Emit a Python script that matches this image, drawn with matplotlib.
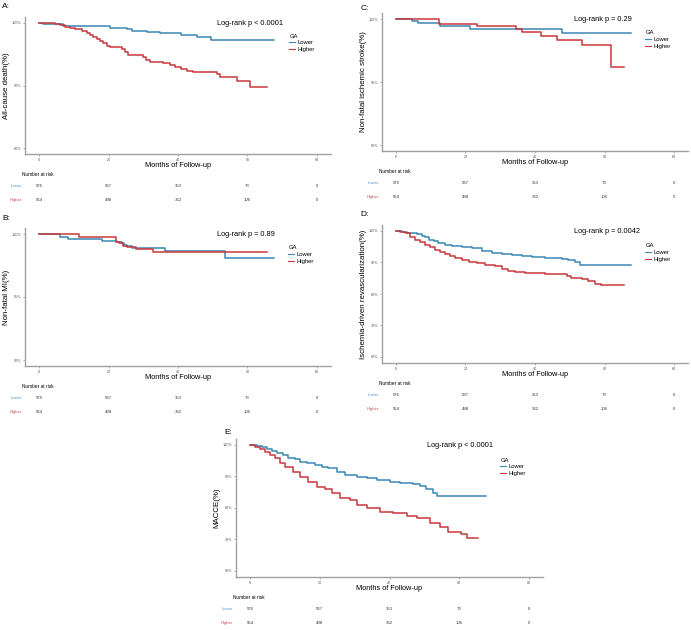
import matplotlib
matplotlib.use("Agg")
import matplotlib.pyplot as plt
from matplotlib.transforms import blended_transform_factory

plt.rcParams['font.family'] = ['Liberation Sans', 'DejaVu Sans']

W, H = 691, 630

lower_color = '#3b87b5'
higher_color = '#c9373b'
lower_label_color = '#5b9bc6'
higher_label_color = '#c24b4b'

x_ticks = [0, 20, 40, 60, 80]
risk_times = [0, 20, 40, 60, 80]
risk_lower = [576, 537, 353, 73, 0]
risk_higher = [564, 498, 362, 106, 0]

# A: all-cause death
a_lower_t = [0, 1.2, 7.0, 10.4, 20.4, 25.2, 26.7, 31.0, 34.8, 41.0, 45.4, 49.4, 67.6]
a_lower_s = [100, 99.9, 99.6, 99.5, 99.25, 99.0, 98.8, 98.6, 98.35, 98.1, 97.7, 97.3, 97.3]
a_higher_t = [0, 4.6, 6.0, 7.5, 9.0, 10.4, 12.3, 13.7, 14.7, 15.6, 16.6, 17.6, 18.5, 19.5,
              20.4, 21.9, 23.8, 24.8, 25.7, 29.9, 30.9, 31.9, 33.8, 35.8, 37.7, 39.1, 41.0,
              42.5, 44.4, 51.1, 52.1, 56.9, 60.7, 65.5]
a_higher_s = [100, 99.85, 99.7, 99.4, 99.15, 99.0, 98.8, 98.45, 98.15, 97.8, 97.5, 97.2, 96.75, 96.3,
              96.2, 96.1, 95.8, 95.4, 94.9, 94.6, 94.1, 93.8, 93.7, 93.55, 93.3, 93.0, 92.7,
              92.4, 92.2, 91.9, 91.4, 90.7, 89.7, 89.7]

# B: non-fatal MI
b_lower_t = [0, 5.9, 8.4, 18.0, 22.4, 23.8, 24.5, 25.2, 26.7, 36.3, 53.5, 67.6]
b_lower_s = [100, 99.8, 99.63, 99.47, 99.37, 99.29, 99.1, 99.03, 98.9, 98.63, 98.08, 98.08]
b_higher_t = [0, 11.5, 22.3, 23.0, 24.3, 25.2, 27.9, 32.9, 65.5]
b_higher_s = [100, 99.8, 99.4, 99.29, 99.08, 98.97, 98.8, 98.55, 98.55]

# C: non-fatal ischemic stroke
c_lower_t = [0, 4.6, 6.3, 12.7, 21.3, 47.9, 67.6]
c_lower_s = [100, 99.84, 99.66, 99.44, 99.23, 98.92, 98.92]
c_higher_t = [0, 12.5, 23.3, 34.5, 36.4, 41.7, 46.4, 53.4, 62.0, 65.5]
c_higher_s = [100, 99.58, 99.42, 99.18, 98.94, 98.68, 98.36, 97.94, 96.16, 96.16]

# D: ischemia-driven revascularization
d_lower_t = [0, 1.7, 3.2, 4.6, 6.0, 7.5, 8.4, 9.4, 10.8, 12.2, 14.2, 16.1, 18.9, 21.8, 24.7,
             27.6, 30.4, 33.3, 36.2, 39.0, 42.9, 47.7, 49.6, 51.5, 52.9, 67.6]
d_lower_s = [100, 99.8, 99.5, 99.3, 98.9, 98.5, 98.0, 97.1, 96.8, 96.3, 95.5, 95.3, 95.0, 94.5, 93.7,
             93.1, 92.7, 92.4, 92.0, 91.8, 91.5, 91.2, 90.8, 90.0, 89.1, 89.1]
d_higher_t = [0, 1.2, 2.7, 4.1, 5.6, 7.0, 8.4, 9.9, 11.3, 12.7, 14.2, 15.6, 17.0, 18.9, 20.9,
              23.3, 25.6, 28.5, 30.4, 32.3, 34.3, 37.1, 42.9, 47.7, 49.1, 50.5, 53.4, 55.3,
              57.2, 59.1, 65.5]
d_higher_s = [100, 99.8, 99.3, 98.2, 97.3, 96.4, 95.5, 94.8, 94.0, 93.2, 92.7, 92.0, 91.4, 90.8, 90.3,
              89.9, 89.2, 88.9, 87.8, 87.3, 87.0, 86.6, 86.5, 86.3, 85.7, 85.1, 84.9, 84.2,
              83.3, 82.7, 82.7]

# E: MACCE
e_lower_t = [0, 1.9, 3.3, 4.8, 6.2, 7.6, 9.6, 11.0, 12.9, 14.3, 16.2, 18.6, 20.5, 22.4, 24.8,
             27.2, 30.6, 33.4, 36.3, 40.1, 43.0, 46.8, 48.7, 50.6, 52.5, 53.5, 67.6]
e_lower_s = [100, 99.7, 99.3, 98.6, 98.1, 97.6, 96.8, 96.0, 95.4, 94.6, 94.2, 93.8, 93.1, 92.6, 91.5,
             90.5, 89.9, 89.4, 88.9, 88.4, 88.0, 87.5, 87.0, 86.1, 84.9, 83.9, 83.9]
e_higher_t = [0, 1.4, 2.9, 4.3, 5.7, 7.2, 8.6, 10.0, 12.4, 14.3, 16.7, 19.1, 21.5, 23.4, 25.8,
              28.7, 30.6, 33.4, 37.2, 41.1, 44.9, 47.8, 51.6, 54.4, 56.8, 60.6, 62.1, 65.4]
e_higher_s = [100, 99.5, 98.7, 97.8, 96.8, 95.8, 94.4, 93.1, 91.5, 89.9, 88.4, 86.8, 85.9, 84.7, 83.1,
              82.5, 81.0, 79.9, 78.8, 78.3, 77.6, 76.7, 75.1, 73.9, 72.5, 71.7, 70.4, 70.4]

fig = plt.figure(figsize=(W / 100, H / 100), dpi=100)
fig.patch.set_facecolor('white')


def fx(x):
    return x / W


def fy(y):
    return 1 - y / H


def panel(rect, label, label_xy, ylabel, ylim, yticks, pval, lo_t, lo_s, hi_t, hi_s, pval_x, leg_x, leg_y):
    l, t, r, b = rect
    ax = fig.add_axes([fx(l), fy(b), (r - l) / W, (b - t) / H])
    ax.step(lo_t, lo_s, where='post', color=lower_color, lw=1.1, label='Lower')
    ax.step(hi_t, hi_s, where='post', color=higher_color, lw=1.1, label='Higher')
    ax.set_xlim(-4, 84)
    ax.set_ylim(*ylim)
    ax.set_xticks(x_ticks)
    ax.set_yticks(yticks)
    ax.set_yticklabels([f'{v}%' for v in yticks])
    for s in ['top', 'right']:
        ax.spines[s].set_visible(False)
    for s in ['left', 'bottom']:
        ax.spines[s].set_color('#a0a0a0')
        ax.spines[s].set_linewidth(1.0)
    ax.tick_params(labelsize=2.7, length=1.5, width=0.5, color='#909090',
                   labelcolor='#555555', pad=1)

    fig.text(fx(label_xy[0]), fy(label_xy[1]), label, fontsize=6, va='center', ha='left')
    fig.text(fx((l + r) / 2), fy(b + 11), 'Months of Follow-up', fontsize=5.3, ha='center', va='center')
    fig.text(fx(l - 19), fy((t + b) / 2), ylabel, fontsize=5.7, rotation=90, ha='center', va='center')
    fig.text(fx(pval_x), fy(t + 6.5), pval, fontsize=5.3, ha='center', va='center')

    # legend
    fig.text(fx(leg_x), fy(leg_y), 'GA', fontsize=4.2, ha='left', va='center')
    leg = ax.legend(loc='upper left', bbox_to_anchor=(fx(leg_x - 1), fy(leg_y + 4)),
                    bbox_transform=fig.transFigure, frameon=False, fontsize=4.2,
                    handlelength=1.0, handletextpad=0.5, labelspacing=0.25,
                    borderpad=0, borderaxespad=0)
    for line in leg.get_lines():
        line.set_linewidth(0.8)

    # risk table
    tr = blended_transform_factory(ax.transData, fig.transFigure)
    fig.text(fx(l - 3), fy(b + 20), 'Number at risk', fontsize=3.4, ha='left', va='center')
    fig.text(fx(l - 3), fy(b + 32), 'Lower', fontsize=3.1, ha='right', va='center', color=lower_label_color)
    fig.text(fx(l - 3), fy(b + 46), 'Higher', fontsize=3.1, ha='right', va='center', color=higher_label_color)
    for tm, nl, nh in zip(risk_times, risk_lower, risk_higher):
        ax.text(tm, fy(b + 32), str(nl), fontsize=3.1, ha='center', va='center', transform=tr, color='#333333')
        ax.text(tm, fy(b + 46), str(nh), fontsize=3.1, ha='center', va='center', transform=tr, color='#333333')
    return ax


panel((25.1, 16.75, 330.9, 154.25), 'A:', (2, 7), 'All-cause death(%)', (79, 101), [80, 90, 100],
      'Log-rank p < 0.0001', a_lower_t, a_lower_s, a_higher_t, a_higher_s, 250, 290, 36)
panel((25.1, 227.7, 330.9, 366.3), 'B:', (2, 218), 'Non-fatal MI(%)', (89.5, 100.5), [90, 95, 100],
      'Log-rank p = 0.89', b_lower_t, b_lower_s, b_higher_t, b_higher_s, 246, 289, 248)
panel((382.1, 12.7, 687.9, 151.3), 'C:', (361, 8), 'Non-fatal ischemic stroke(%)', (89.5, 100.5),
      [90, 95, 100], 'Log-rank p = 0.29', c_lower_t, c_lower_s, c_higher_t, c_higher_s, 603, 646, 33)
panel((382.1, 224.7, 687.9, 363.3), 'D:', (360, 215), 'Ischemia-driven revascularization(%)', (58, 102),
      [60, 70, 80, 90, 100], 'Log-rank p = 0.0042', d_lower_t, d_lower_s, d_higher_t, d_higher_s,
      607, 646, 246)
panel((236.05, 438.7, 543.0, 577.3), 'E:', (224, 432), 'MACCE(%)', (58, 102), [60, 70, 80, 90, 100],
      'Log-rank p < 0.0001', e_lower_t, e_lower_s, e_higher_t, e_higher_s, 460, 501, 460)

fig.savefig('out.png', dpi=100, facecolor='white')
